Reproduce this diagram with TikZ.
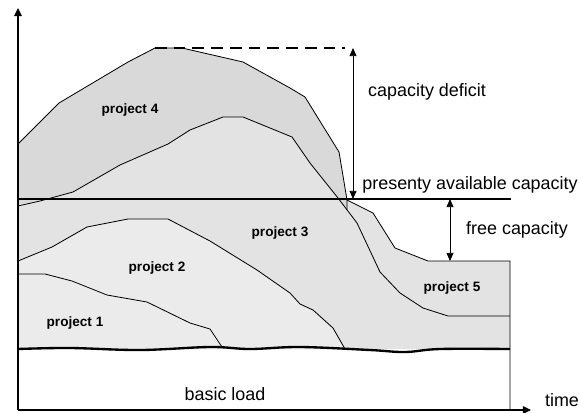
\documentclass[tikz,border=0pt]{standalone}
\usepackage{fontspec}
\setmainfont{Liberation Sans}
\usepackage{xcolor}
\usepackage{tikz}
\usetikzlibrary{arrows.meta}
\definecolor{pfour}{gray}{0.85}
\definecolor{pthree}{gray}{0.89}
\definecolor{pone}{gray}{0.92}
\tikzset{
	lbl/.style={font=\fontsize{15.3}{18}\selectfont, inner sep=0pt},
	prj/.style={font=\fontsize{11.6}{14}\selectfont\bfseries, inner sep=0pt},
	curve/.style={line width=0.7pt, line join=round},
	capline/.style={line width=2.5pt},
	dim/.style={line width=0.8pt, {Triangle[length=7pt,width=6pt]}-{Triangle[length=7pt,width=6pt]}},
	ax/.style={line width=1pt, -{Triangle[length=7pt,width=6.5pt]}},
}

\begin{document}
\begin{tikzpicture}[x=0.3mm, y=-0.3mm]
				\useasboundingbox (0,0) rectangle (580,412);
				% envelope of all projects
				\fill[pthree] (18,144) -- (59,103) -- (128,62) -- (155,48) -- (182,48) -- (243,62) -- (290,88) -- (305,97) -- (339,152) -- (347,200) -- (373,213) -- (395,248) -- (428,261) -- (510,261) -- (510,349) -- (18,349) -- cycle;
				% project 4
				\fill[pfour] (18,144) -- (59,103) -- (128,62) -- (155,48) -- (182,48) -- (243,62) -- (290,88) -- (305,97) -- (339,152) -- (347,200) -- (347,210) -- (338,198) -- (310,163) -- (292,137) -- (243,117) -- (223,117) -- (190,130) -- (168,144) -- (120,165) -- (73,192) -- (40,201) -- (18,206) -- cycle;
				% projects 1 and 2
				\fill[pone] (18,261) -- (52,247) -- (87,227) -- (128,219) -- (168,219) -- (210,241) -- (257,270) -- (290,293) -- (300,304) -- (313,310) -- (333,328) -- (345,349) -- (18,349) -- cycle;
				\draw[curve] (18,144) -- (59,103) -- (128,62) -- (155,48) -- (182,48) -- (243,62) -- (290,88) -- (305,97) -- (339,152) -- (347,200) -- (347,210);
				\draw[curve] (347,200) -- (373,213) -- (395,248) -- (428,261) -- (510,261) -- (510,410);
				\draw[curve] (18,206) -- (40,201) -- (73,192) -- (120,165) -- (168,144) -- (190,130) -- (223,117) -- (243,117) -- (292,137) -- (310,163) -- (338,198) -- (357,223) -- (380,272) -- (400,293) -- (423,308) -- (448,316) -- (510,316);
				\draw[curve] (18,261) -- (52,247) -- (87,227) -- (128,219) -- (168,219) -- (210,241) -- (257,270) -- (290,293) -- (300,304) -- (313,310) -- (333,328) -- (345,349);
				\draw[curve] (18,274) -- (45,274) -- (72,281) -- (107,295) -- (147,302) -- (190,323) -- (210,329) -- (222,347);
				% basic load
				\draw[line width=2pt] plot[smooth, tension=0.6] coordinates {(18,349) (70,348) (140,350) (210,347) (250,349) (300,347) (370,350) (405,352) (440,349) (510,349)};
				% capacity levels
				\coordinate (peak) at (353,48);
				\coordinate (avail) at (353,199);
				\coordinate (free) at (450,199);
				\coordinate (load5) at (450,261);
				\draw[capline] (18,199) -- (511,199);
				\draw[line width=2.4pt, dash pattern=on 10pt off 6pt] (155,48) -- (345,48);
				\draw[dim] (peak) -- (avail);
				\draw[dim] (free) -- (load5);
				% axes
				\coordinate (origin) at (18,410);
				\coordinate (yend) at (18,8);
				\coordinate (xend) at (531,410);
				\draw[ax] (origin) -- (yend);
				\draw[ax] (origin) -- (xend);
				\node[prj] at (130,110) (p4) {project 4};
				\node[prj] at (280,233) (p3) {project 3};
				\node[prj] at (157,268) (p2) {project 2};
				\node[prj] at (75,323) (p1) {project 1};
				\node[prj] at (452,288) (p5) {project 5};
				\node[lbl] at (225,394) (base) {basic load};
				\node[lbl] at (427,92) (deficit) {capacity deficit};
				\node[lbl] at (470,185) (avl) {presenty available capacity};
				\node[lbl] at (517,230) (fcap) {free capacity};
				\node[lbl] at (562,400) (time) {time};
			\end{tikzpicture}
\end{document}
